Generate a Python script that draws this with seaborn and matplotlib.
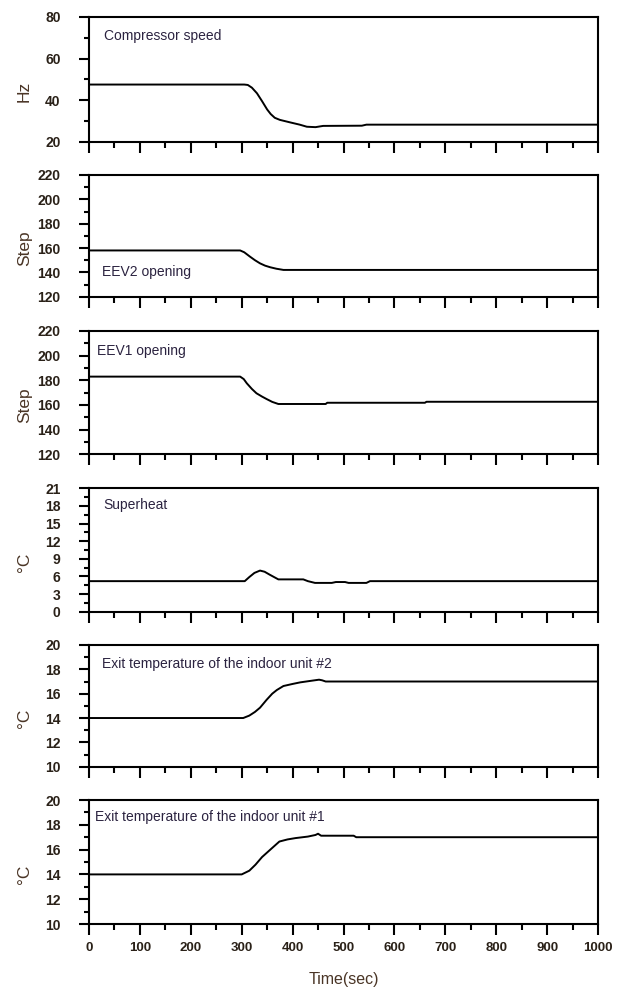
import matplotlib
matplotlib.use("Agg")
import matplotlib.pyplot as plt
from matplotlib.ticker import MultipleLocator
import seaborn as sns
import pandas as pd

# ---------------- data ----------------
t_comp = [0, 305, 312, 320, 330, 340, 350, 357, 365, 375, 395, 414, 428, 445, 460, 536, 545, 1000]
comp_speed = [47.5, 47.5, 47.3, 46.0, 43.3, 39.5, 35.5, 33.3, 31.5, 30.5, 29.3, 28.2, 27.2, 27.0, 27.6, 27.7, 28.2, 28.2]

t_eev2 = [0, 297, 305, 316, 326, 336, 346, 356, 368, 382, 1000]
eev2 = [158, 158, 156.5, 153, 150, 147.4, 145.5, 144.2, 143, 142, 142]

t_eev1 = [0, 297, 304, 310, 320, 329, 340, 349, 360, 372, 465, 468, 660, 663, 1000]
eev1 = [183, 183, 181, 177.6, 173, 169.5, 166.8, 164.8, 162.5, 160.8, 160.8, 161.8, 161.8, 162.6, 162.6]

t_sh = [0, 306, 315, 325, 336, 345, 355, 372, 421, 430, 444, 477, 485, 503, 510, 545, 552, 1000]
superheat = [5.2, 5.2, 5.9, 6.6, 7.0, 6.8, 6.3, 5.5, 5.5, 5.2, 4.9, 4.9, 5.05, 5.05, 4.9, 4.9, 5.2, 5.2]

t_ex2 = [0, 303, 315, 326, 336, 349, 360, 369, 382, 400, 415, 440, 452, 458, 465, 1000]
exit2 = [14, 14, 14.2, 14.5, 14.85, 15.5, 16.0, 16.3, 16.63, 16.8, 16.93, 17.08, 17.15, 17.1, 17.0, 17.0]

t_ex1 = [0, 300, 315, 327, 340, 359, 374, 390, 406, 430, 445, 450, 456, 520, 525, 1000]
exit1 = [14, 14, 14.3, 14.78, 15.4, 16.1, 16.65, 16.82, 16.93, 17.05, 17.18, 17.28, 17.12, 17.12, 17.0, 17.0]

titles = ["Compressor speed", "EEV2 opening", "EEV1 opening", "Superheat",
          "Exit temperature of the indoor unit #2", "Exit temperature of the indoor unit #1"]
ylabels = ["Hz", "Step", "Step", "°C", "°C", "°C"]
x_label = "Time(sec)"

# ---------------- style ----------------
sns.set_style("ticks")
plt.rcParams['font.family'] = ['Liberation Sans', 'DejaVu Sans']

W, H = 625, 992
fig = plt.figure(figsize=(W / 100, H / 100), dpi=100)

panels_px = [(17, 141.7), (175, 296.7), (331, 454.3), (488.3, 611.7), (645, 766.7), (800, 924)]
left_px, right_px = 89, 598

series = [(t_comp, comp_speed), (t_eev2, eev2), (t_eev1, eev1),
          (t_sh, superheat), (t_ex2, exit2), (t_ex1, exit1)]
ylims = [(20, 80), (120, 220), (120, 220), (0, 21), (10, 20), (10, 20)]
ymaj = [20, 20, 20, 3, 2, 2]
ymin = [10, 10, 10, 1.5, 1, 1]
title_pos = [(0.029, 0.85), (0.025, 0.20), (0.015, 0.84), (0.029, 0.865), (0.025, 0.845), (0.011, 0.86)]

tick_color = '#2a2118'
label_color = '#4a3526'
title_color = '#2b2340'

for i, ((top, bot), (tt, vv)) in enumerate(zip(panels_px, series)):
    ax = fig.add_axes([left_px / W, 1 - bot / H, (right_px - left_px) / W, (bot - top) / H])
    df = pd.DataFrame({"t": tt, "v": vv})
    sns.lineplot(data=df, x="t", y="v", ax=ax, color='black', linewidth=1.4)
    ax.set_xlim(0, 1000)
    ax.set_ylim(*ylims[i])
    ax.xaxis.set_major_locator(MultipleLocator(100))
    ax.xaxis.set_minor_locator(MultipleLocator(50))
    ax.yaxis.set_major_locator(MultipleLocator(ymaj[i]))
    ax.yaxis.set_minor_locator(MultipleLocator(ymin[i]))
    for s in ax.spines.values():
        s.set_visible(True)
        s.set_linewidth(1.5)
        s.set_color('black')
    ax.tick_params(axis='x', which='major', direction='out', length=8, width=1.5,
                   colors='black', labelcolor=tick_color, pad=5)
    ax.tick_params(axis='x', which='minor', direction='out', length=4.5, width=1.5, colors='black')
    ax.tick_params(axis='y', which='major', direction='out', length=7.5, width=1.5,
                   colors='black', labelcolor=tick_color, pad=13)
    ax.tick_params(axis='y', which='minor', direction='out', length=3.5, width=1.5, colors='black')
    for lab in ax.get_yticklabels():
        lab.set_fontweight('bold')
        lab.set_fontsize(10)
    if i == 5:
        ax.set_xlabel(x_label, fontsize=11.5, color=label_color, labelpad=13)
        for lab in ax.get_xticklabels():
            lab.set_fontweight('bold')
            lab.set_fontsize(9.5)
    else:
        ax.set_xlabel("")
        ax.set_xticklabels([])
    ax.set_ylabel(ylabels[i], fontsize=12.5, color=label_color)
    ax.yaxis.set_label_coords(-0.112, 0.40)
    ax.text(title_pos[i][0], title_pos[i][1], titles[i], transform=ax.transAxes,
            ha='left', va='center', fontsize=10, color=title_color)

fig.savefig("out.png", dpi=100)
